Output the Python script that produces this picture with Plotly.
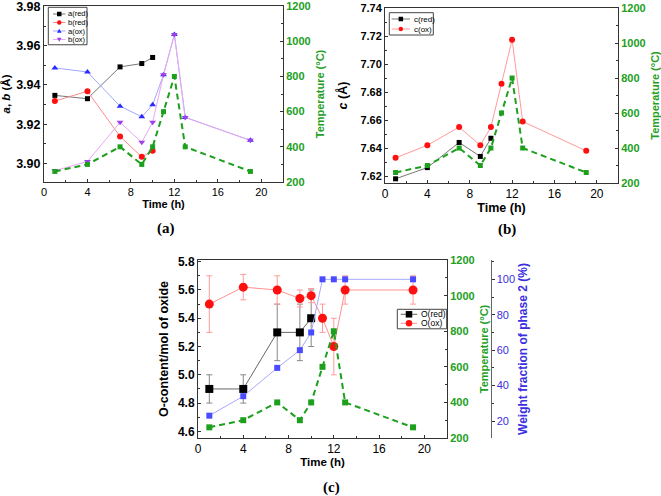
import plotly.graph_objects as go

# ---------------- data ----------------
time_all = [1, 4, 7, 9, 10, 11, 12, 13, 19]
time_red = [1, 4, 7, 9, 10]
temperature = [260, 300, 400, 300, 400, 600, 800, 400, 260]

a_red = [3.9347, 3.9330, 3.9492, 3.9509, 3.9540]
b_red = [3.9318, 3.9368, 3.9138, 3.9034, 3.9065]
a_ox = [3.9487, 3.9466, 3.9292, 3.9238, 3.9299, 3.9452, 3.9657, 3.9235, 3.9118]
b_ox = [3.8964, 3.9010, 3.9210, 3.9108, 3.9210, 3.9452, 3.9657, 3.9235, 3.9118]

c_red = [7.618, 7.626, 7.644, 7.634, 7.647]
c_ox = [7.633, 7.642, 7.655, 7.642, 7.655, 7.686, 7.7175, 7.659, 7.638]

o_red = [4.9, 4.9, 5.3, 5.3, 5.4]
o_red_err = [0.1, 0.1, 0.2, 0.2, 0.2]
o_ox = [5.5, 5.62, 5.6, 5.54, 5.56, 5.4, 5.2, 5.6, 5.6]
o_ox_err = [0.2, 0.09, 0.1, 0.06, 0.05, 0.1, 0.2, 0.1, 0.1]
weight_frac = [23, 34, 50, 60, 70, 100, 100, 100, 100]

x_ticks = [0, 4, 8, 12, 16, 20]

# ---------------- style ----------------
W, H = 661, 496
FONT = "Arial, Liberation Sans, sans-serif"
SERIF = "Times New Roman, Liberation Serif, serif"
GREEN = "#1ea01e"
GREEN_TXT = "#22a022"
BLUE_TXT = "#3a2ee0"
AXC = "#333333"

STY = {
    "a(red)": dict(line="#777777", sym="square", mc="black"),
    "b(red)": dict(line="#ff8a8a", sym="circle", mc="#ff1010"),
    "a(ox)": dict(line="#a0a8ff", sym="triangle-up", mc="#2a2aff"),
    "b(ox)": dict(line="#e8a8f0", sym="triangle-down", mc="#a040e8"),
    "c(red)": dict(line="#777777", sym="square", mc="black"),
    "c(ox)": dict(line="#ff9a9a", sym="circle", mc="#ff1010"),
    "O(red)": dict(line="#666666", sym="square", mc="black"),
    "O(ox)": dict(line="#ff9090", sym="circle", mc="#ff1010"),
}

fig = go.Figure()

def temp_trace(xa, ya, size):
    return go.Scatter(x=time_all, y=temperature, xaxis=xa, yaxis=ya, mode="lines+markers",
                      line=dict(color=GREEN, width=2, dash="6px,4px"),
                      marker=dict(symbol="square", size=size, color=GREEN),
                      showlegend=False, hoverinfo="skip")

def series(name, x, y, xa, ya, size, err=None, errc=None):
    s = STY[name]
    kw = {}
    if err is not None:
        kw["error_y"] = dict(type="data", array=err, color=errc, thickness=1, width=3)
    return go.Scatter(x=x, y=y, xaxis=xa, yaxis=ya, name=name, mode="lines+markers",
                      line=dict(color=s["line"], width=1),
                      marker=dict(symbol=s["sym"], size=size, color=s["mc"]),
                      showlegend=False, **kw)

# panel (a)
fig.add_trace(temp_trace("x", "y2", 5))
fig.add_trace(series("a(red)", time_red, a_red, "x", "y", 5))
fig.add_trace(series("b(red)", time_red, b_red, "x", "y", 6))
fig.add_trace(series("a(ox)", time_all, a_ox, "x", "y", 6))
fig.add_trace(series("b(ox)", time_all, b_ox, "x", "y", 6))

# panel (b)
fig.add_trace(temp_trace("x2", "y4", 5))
fig.add_trace(series("c(red)", time_red, c_red, "x2", "y3", 5))
fig.add_trace(series("c(ox)", time_all, c_ox, "x2", "y3", 6))

# panel (c)
fig.add_trace(temp_trace("x3", "y6", 6))
fig.add_trace(go.Scatter(x=time_all, y=weight_frac, xaxis="x3", yaxis="y7", mode="lines+markers",
                         line=dict(color="#a8a8ff", width=1),
                         marker=dict(symbol="square", size=6, color="#4a4aff"),
                         showlegend=False, hoverinfo="skip"))
fig.add_trace(series("O(red)", time_red, o_red, "x3", "y5", 8, o_red_err, "#888888"))
fig.add_trace(series("O(ox)", time_all, o_ox, "x3", "y5", 9, o_ox_err, "#ff9a9a"))


def xax(domain, anchor, tsize, ttl, standoff):
    return dict(domain=domain, anchor=anchor, range=[0, 22], tickvals=x_ticks, automargin=False,
                ticklabeloverflow="allow",
                ticks="inside", ticklen=3, tickcolor=AXC, showline=True, linecolor=AXC, linewidth=1,
                mirror=True, showgrid=False, zeroline=False,
                minor=dict(dtick=2, tick0=0, ticks="inside", ticklen=2, tickcolor=AXC),
                tickfont=dict(family=FONT, size=tsize, color="black"), tickprefix="<b>", ticksuffix="</b>",
                title=dict(text="<b>Time (h)</b>", font=dict(family=FONT, size=ttl, color="black"),
                           standoff=standoff))

def yax(domain, anchor, rng, dtick, mdtick, title, fmt, tsize, ttl, standoff):
    return dict(domain=domain, anchor=anchor, range=rng, dtick=dtick, tick0=0, tickformat=fmt,
                automargin=False, ticklabeloverflow="allow",
                ticks="inside", ticklen=3, tickcolor=AXC, showline=True, linecolor=AXC, linewidth=1,
                showgrid=False, zeroline=False,
                minor=dict(dtick=mdtick, tick0=0, ticks="inside", ticklen=2, tickcolor=AXC),
                tickfont=dict(family=FONT, size=tsize, color="black"), tickprefix="<b>", ticksuffix="</b>",
                title=dict(text=title, font=dict(family=FONT, size=ttl, color="black"), standoff=standoff))

def tax(domain, anchor, overlay, tsize, ttl, standoff):
    return dict(domain=domain, anchor=anchor, overlaying=overlay, side="right", range=[200, 1200.5],
                automargin=False, ticklabeloverflow="allow",
                dtick=200, ticks="inside", ticklen=3, tickcolor=AXC, showline=True, linecolor=AXC,
                showgrid=False, zeroline=False,
                minor=dict(dtick=100, ticks="inside", ticklen=2, tickcolor=AXC),
                tickfont=dict(family=FONT, size=tsize, color=GREEN_TXT), tickprefix="<b>", ticksuffix="</b>",
                title=dict(text="<b>Temperature (°C)</b>", font=dict(family=FONT, size=ttl, color=GREEN_TXT),
                           standoff=standoff))

def px(x0, x1):
    return [x0 / W, x1 / W]

def py(top, bottom):
    return [1 - bottom / H, 1 - top / H]

dom_a_x, dom_a_y = px(44, 283), py(6, 182)
dom_b_x, dom_b_y = px(385, 618), py(8, 183)
dom_c_x, dom_c_y = px(198, 447), py(260, 438)

# ---------------- hand-drawn legends (Origin style, compact) ----------------
shapes = []
annotations = []

def add_legend(names, left, top, right, row_h, first_y, line_x0, line_x1, text_x, msize, fsize):
    bottom = first_y + row_h * (len(names) - 1) + row_h * 0.5 + 1
    shapes.append(dict(type="rect", xref="paper", yref="paper", x0=left / W, x1=right / W,
                       y0=1 - bottom / H, y1=1 - top / H, line=dict(color="#444444", width=1),
                       fillcolor="white", layer="above"))
    for i, nm in enumerate(names):
        s = STY[nm]
        yy = first_y + i * row_h
        shapes.append(dict(type="line", xref="paper", yref="paper", x0=line_x0 / W, x1=line_x1 / W,
                           y0=1 - yy / H, y1=1 - yy / H, line=dict(color=s["line"], width=1), layer="above"))
        cx = (line_x0 + line_x1) / 2
        r = msize / 2
        if s["sym"] == "square":
            shapes.append(dict(type="rect", xref="paper", yref="paper", x0=(cx - r) / W, x1=(cx + r) / W,
                               y0=1 - (yy + r) / H, y1=1 - (yy - r) / H, fillcolor=s["mc"],
                               line=dict(width=0), layer="above"))
        elif s["sym"] == "circle":
            shapes.append(dict(type="circle", xref="paper", yref="paper", x0=(cx - r) / W, x1=(cx + r) / W,
                               y0=1 - (yy + r) / H, y1=1 - (yy - r) / H, fillcolor=s["mc"],
                               line=dict(width=0), layer="above"))
        else:
            up = s["sym"] == "triangle-up"
            tip = yy - r if up else yy + r
            base = yy + r * 0.8 if up else yy - r * 0.8
            path = "M {:.5f} {:.5f} L {:.5f} {:.5f} L {:.5f} {:.5f} Z".format(
                cx / W, 1 - tip / H, (cx - r) / W, 1 - base / H, (cx + r) / W, 1 - base / H)
            shapes.append(dict(type="path", xref="paper", yref="paper", path=path, fillcolor=s["mc"],
                               line=dict(width=0), layer="above"))
        annotations.append(dict(text=nm, x=text_x / W, y=1 - yy / H, xref="paper", yref="paper",
                                xanchor="left", yanchor="middle", showarrow=False,
                                font=dict(family=FONT, size=fsize, color="black")))

add_legend(["a(red)", "b(red)", "a(ox)", "b(ox)"], 48.3, 7.3, 87, 8.5, 14, 53, 65.5, 66, 4.5, 7.5)
add_legend(["c(red)", "c(ox)"], 389.3, 12.7, 433.3, 10, 19, 391.7, 410, 411.7, 4.5, 8)
add_legend(["O(red)", "O(ox)"], 397.3, 309.3, 446.7, 9, 314.3, 400.7, 417.3, 419, 6.5, 8.5)

for txt, xc, yc in [("(a)", 166, 228), ("(b)", 507, 229), ("(c)", 331, 487)]:
    annotations.append(dict(text="<b>" + txt + "</b>", x=xc / W, y=1 - yc / H, xref="paper", yref="paper",
                            showarrow=False, xanchor="center", yanchor="middle",
                            font=dict(family=SERIF, size=15, color="black")))

fig.update_layout(
    width=W, height=H, margin=dict(l=0, r=0, t=0, b=0),
    paper_bgcolor="white", plot_bgcolor="white",
    xaxis=xax(dom_a_x, "y", 11, 11, 2),
    yaxis=yax(dom_a_y, "x", [3.8906, 3.9802], 0.02, 0.01, "<b><i>a</i>, <i>b</i> (Å)</b>", ".2f", 12.5, 11.5, 6),
    yaxis2=tax(dom_a_y, "x", "y", 11, 11, 6),
    xaxis2=xax(dom_b_x, "y3", 12, 12.5, 1),
    yaxis3=yax(dom_b_y, "x2", [7.615, 7.7402], 0.02, 0.01, "<b><i>c</i> (Å)</b>", ".2f", 11, 12.5, 10),
    yaxis4=tax(dom_b_y, "x2", "y3", 11, 11, 9),
    xaxis3=xax(dom_c_x, "y5", 12, 11.5, 1),
    yaxis5=yax(dom_c_y, "x3", [4.553, 5.812], 0.2, 0.1, "<b>O-content/mol of oxide</b>", ".1f", 12, 12.5, 6),
    yaxis6=tax(dom_c_y, "x3", "y5", 11, 11, 6),
    yaxis7=dict(domain=dom_c_y, anchor="free", overlaying="y5", side="right", position=490.5 / W,
                automargin=False, ticklabeloverflow="allow",
                range=[10.4, 110.9], tickvals=[20, 40, 60, 80, 100], ticks="outside", ticklen=3,
                tickcolor=AXC, showline=True, linecolor="#666666", showgrid=False, zeroline=False,
                minor=dict(tickvals=[10, 30, 50, 70, 90, 110], ticks="outside", ticklen=2, tickcolor=AXC),
                tickfont=dict(family=FONT, size=11, color=BLUE_TXT), tickprefix="<b>", ticksuffix="</b>",
                title=dict(text="<b>Weight fraction of phase 2 (%)</b>",
                           font=dict(family=FONT, size=12, color=BLUE_TXT), standoff=4)),
    shapes=shapes,
    annotations=annotations,
)

fig.write_html("out.html", config={"displayModeBar": False},
               post_script="document.body.style.margin='0';")
